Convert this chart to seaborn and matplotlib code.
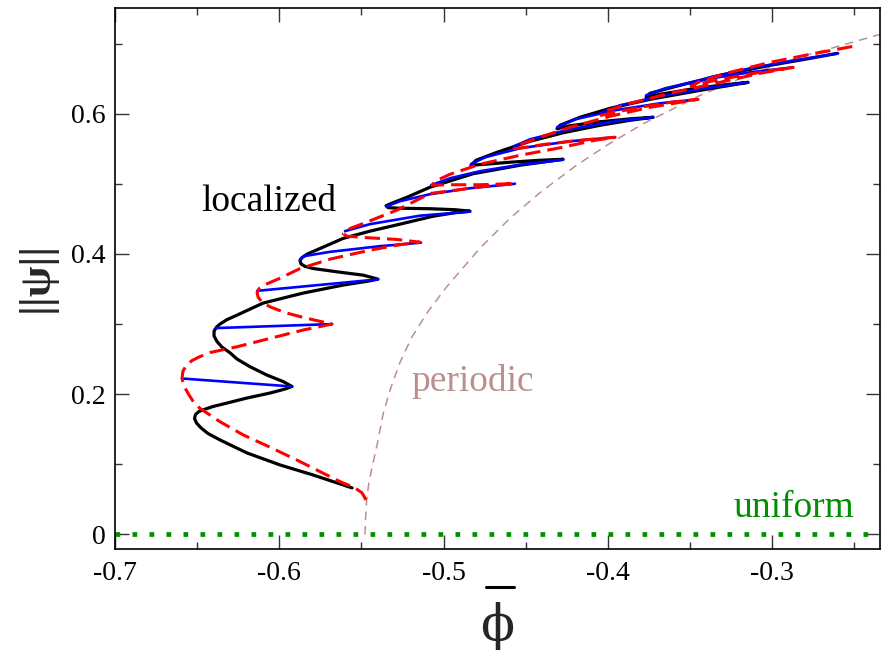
import matplotlib
matplotlib.use("Agg")
import matplotlib.pyplot as plt
from matplotlib.lines import Line2D
from matplotlib.ticker import MultipleLocator, FuncFormatter
import pandas as pd
import seaborn as sns

# ---------------------------------------------------------------- data
# localized branch 1 (solid black): mean density vs. norm of psi
black_phi = [-0.5557, -0.5630, -0.5795, -0.5995, -0.6196, -0.6361, -0.6434, -0.6476, -0.6504, -0.6516,
             -0.6510, -0.6489, -0.6452, -0.6403, -0.6342, -0.6196, -0.6056, -0.5965, -0.5922,
             -0.5977, -0.6075, -0.6178, -0.6257, -0.6300, -0.6349, -0.6379, -0.6397, -0.6397, -0.6382,
             -0.6361, -0.6318, -0.6257, -0.6099, -0.5855, -0.5612, -0.5448, -0.5399,
             -0.5490, -0.5648, -0.5795, -0.5843, -0.5868, -0.5874, -0.5862, -0.5831, -0.5752, -0.5612,
             -0.5448, -0.5265, -0.5064, -0.4930, -0.4839,
             -0.4930, -0.5082, -0.5265, -0.5338, -0.5350, -0.5314, -0.5222, -0.5082, -0.4820, -0.4534, -0.4272,
             -0.4413, -0.4595, -0.4747, -0.4833, -0.4802, -0.4674, -0.4473, -0.4272, -0.4047, -0.3864, -0.3724,
             -0.3864, -0.4047, -0.4230, -0.4309, -0.4291, -0.4169, -0.3986, -0.3743, -0.3438, -0.3146,
             -0.3317, -0.3499, -0.3682, -0.3767, -0.3743, -0.3560, -0.3317, -0.3012, -0.2769, -0.2604]
black_norm = [0.0664, 0.0721, 0.0849, 0.0991, 0.1162, 0.1348, 0.1440, 0.1519, 0.1590, 0.1654,
              0.1711, 0.1754, 0.1786, 0.1825, 0.1860, 0.1946, 0.2017, 0.2074, 0.2110,
              0.2181, 0.2273, 0.2392, 0.2501, 0.2591, 0.2672, 0.2751, 0.2829, 0.2900, 0.2957,
              0.3000, 0.3064, 0.3128, 0.3299, 0.3442, 0.3556, 0.3617, 0.3641,
              0.3698, 0.3745, 0.3793, 0.3823, 0.3858, 0.3905, 0.3947, 0.3997, 0.4078, 0.4221,
              0.4325, 0.4425, 0.4538, 0.4588, 0.4610,
              0.4631, 0.4645, 0.4652, 0.4660, 0.4688, 0.4724, 0.4809, 0.4952, 0.5144, 0.5265, 0.5350,
              0.5336, 0.5308, 0.5279, 0.5265, 0.5336, 0.5450, 0.5607, 0.5728, 0.5835, 0.5906, 0.5949,
              0.5927, 0.5885, 0.5828, 0.5785, 0.5835, 0.5949, 0.6077, 0.6205, 0.6333, 0.6447,
              0.6405, 0.6348, 0.6276, 0.6234, 0.6291, 0.6405, 0.6547, 0.6690, 0.6789, 0.6860]

# localized branch 2 (dashed red)
red_phi = [-0.5472, -0.5496, -0.5539, -0.5630, -0.5732, -0.5894, -0.6056, -0.6219, -0.6361, -0.6483,
           -0.6522, -0.6553, -0.6580, -0.6592, -0.6586, -0.6565, -0.6531, -0.6489, -0.6422, -0.6257,
           -0.6056, -0.5855, -0.5679,
           -0.5855, -0.5965, -0.6056, -0.6105, -0.6129, -0.6135, -0.6123, -0.6093, -0.6008, -0.5874,
           -0.5691, -0.5448, -0.5265, -0.5143,
           -0.5285, -0.5488, -0.5589, -0.5610, -0.5569, -0.5488, -0.5285, -0.5082, -0.4778, -0.4565,
           -0.4778, -0.4991, -0.5070, -0.5052, -0.4960, -0.4778, -0.4534, -0.4291, -0.4078, -0.3956,
           -0.4169, -0.4382, -0.4522, -0.4571, -0.4546, -0.4413, -0.4230, -0.3986, -0.3743, -0.3451,
           -0.3621, -0.3804, -0.3974, -0.4041, -0.4017, -0.3864, -0.3621, -0.3317, -0.3073, -0.2872,
           -0.3073, -0.3317, -0.3457, -0.3493, -0.3438, -0.3256, -0.3012, -0.2769, -0.2507]
red_norm = [0.0493, 0.0593, 0.0664, 0.0754, 0.0873, 0.1063, 0.1244, 0.1419, 0.1608, 0.1799,
            0.1889, 0.2003, 0.2117, 0.2224, 0.2330, 0.2416, 0.2480, 0.2530, 0.2594, 0.2677,
            0.2796, 0.2915, 0.3000,
            0.3095, 0.3164, 0.3246, 0.3313, 0.3385, 0.3449, 0.3506, 0.3556, 0.3641, 0.3791,
            0.3926, 0.4054, 0.4132, 0.4168,
            0.4207, 0.4235, 0.4254, 0.4289, 0.4363, 0.4435, 0.4624, 0.4862, 0.4956, 0.5004,
            0.4987, 0.4987, 0.4980, 0.5037, 0.5137, 0.5279, 0.5407, 0.5514, 0.5621, 0.5664,
            0.5621, 0.5564, 0.5514, 0.5500, 0.5550, 0.5664, 0.5806, 0.5963, 0.6091, 0.6205,
            0.6162, 0.6091, 0.6013, 0.5977, 0.6034, 0.6148, 0.6291, 0.6447, 0.6576, 0.6661,
            0.6590, 0.6490, 0.6419, 0.6390, 0.6462, 0.6590, 0.6732, 0.6846, 0.6960]

# asymmetric "rung" branches (blue) linking the two snakes
rung_phi = [
    [-0.6592, -0.5922],
    [-0.6385, -0.5679],
    [-0.6135, -0.5399],
    [-0.5874, -0.5849, -0.5691, -0.5387, -0.5137],
    [-0.5600, -0.5448, -0.5143, -0.4839],
    [-0.5344, -0.5265, -0.5082, -0.4839, -0.4565],
    [-0.5076, -0.4960, -0.4778, -0.4534, -0.4272],
    [-0.4833, -0.4747, -0.4534, -0.4230, -0.3956],
    [-0.4571, -0.4473, -0.4230, -0.3956, -0.3724],
    [-0.4309, -0.4199, -0.3956, -0.3682, -0.3451],
    [-0.4041, -0.3925, -0.3682, -0.3408, -0.3146],
    [-0.3767, -0.3651, -0.3408, -0.3134, -0.2872],
    [-0.3493, -0.3378, -0.3134, -0.2860, -0.2598],
]
rung_norm = [
    [0.2224, 0.2110],
    [0.2943, 0.3000],
    [0.3474, 0.3637],
    [0.3922, 0.3969, 0.4030, 0.4111, 0.4161],
    [0.4325, 0.4425, 0.4546, 0.4603],
    [0.4681, 0.4752, 0.4852, 0.4937, 0.5001],
    [0.4980, 0.5080, 0.5180, 0.5272, 0.5343],
    [0.5279, 0.5379, 0.5507, 0.5607, 0.5664],
    [0.5536, 0.5635, 0.5778, 0.5892, 0.5949],
    [0.5806, 0.5920, 0.6049, 0.6148, 0.6205],
    [0.6006, 0.6120, 0.6248, 0.6362, 0.6447],
    [0.6262, 0.6362, 0.6490, 0.6590, 0.6661],
    [0.6419, 0.6519, 0.6647, 0.6761, 0.6860],
]

# periodic (stripe) branch
periodic_phi = [-0.5478, -0.5475, -0.5468, -0.5454, -0.5429, -0.5405, -0.5387, -0.5367, -0.5326,
                -0.5265, -0.5192, -0.5094, -0.4981, -0.4778, -0.4595, -0.4413, -0.4199, -0.4006,
                -0.3785, -0.3438, -0.3134, -0.2830, -0.2629, -0.2343]
periodic_norm = [0.0, 0.0208, 0.0493, 0.0749, 0.1020, 0.1276, 0.1490, 0.1728, 0.2056,
                 0.2455, 0.2818, 0.3182, 0.3531, 0.4083, 0.4510, 0.4873, 0.5251, 0.5550,
                 0.5856, 0.6262, 0.6561, 0.6811, 0.6939, 0.7131]

# uniform state
uniform_phi = [-0.7, -0.2343]
uniform_norm = [0.0, 0.0]

x_ticks = [-0.7, -0.6, -0.5, -0.4, -0.3]
y_ticks = [0.0, 0.2, 0.4, 0.6]

# ---------------------------------------------------------------- style
sns.set_theme(style="ticks")
plt.rcParams["font.family"] = ["Liberation Serif", "DejaVu Serif"]
plt.rcParams["axes.unicode_minus"] = False

fig = plt.figure(figsize=(8.81, 6.5), dpi=100)
ax = fig.add_axes([115 / 881, 1 - 548.5 / 650, 765 / 881, 540 / 650])

green = "#008f00"
brown = "#bc8f8f"

sns.lineplot(x=uniform_phi, y=uniform_norm, ax=ax, color=green, lw=3.4,
             linestyle=(0, (1, 2.6)), sort=False, estimator=None, zorder=2)
sns.lineplot(x=periodic_phi, y=periodic_norm, ax=ax, color=brown, lw=1.1,
             linestyle=(0, (5.5, 4)), sort=False, estimator=None, zorder=2)
sns.lineplot(x=black_phi, y=black_norm, ax=ax, color="black", lw=2.3,
             sort=False, estimator=None, zorder=3)

rungs = pd.DataFrame({
    "phi": [v for seg in rung_phi for v in seg],
    "norm": [v for seg in rung_norm for v in seg],
    "rung": [i for i, seg in enumerate(rung_phi) for _ in seg],
})
sns.lineplot(data=rungs, x="phi", y="norm", units="rung", estimator=None, sort=False,
             ax=ax, color="#0000ff", lw=1.9, legend=False, zorder=4)

sns.lineplot(x=red_phi, y=red_norm, ax=ax, color="#ff0000", lw=2.2,
             linestyle=(0, (5, 2.3)), sort=False, estimator=None, zorder=5)

# ---------------------------------------------------------------- axes
ax.set_xlim(-0.7, -0.2343)
ax.set_ylim(-0.02, 0.75)
ax.set_xticks(x_ticks)
ax.set_yticks(y_ticks)
ax.xaxis.set_minor_locator(MultipleLocator(0.05))
ax.yaxis.set_minor_locator(MultipleLocator(0.1))
ax.xaxis.set_major_formatter(FuncFormatter(lambda v, _: f"{v:.1f}"))
ax.yaxis.set_major_formatter(FuncFormatter(lambda v, _: "0" if abs(v) < 1e-9 else f"{v:.1f}"))
ax.tick_params(which="both", direction="in", top=True, right=True, width=1.0,
               color="#333333", labelsize=20, labelcolor="black")
ax.tick_params(which="major", length=10)
ax.tick_params(which="minor", length=5)
ax.tick_params(axis="x", pad=9)
ax.tick_params(axis="y", pad=7)
for side in ax.spines.values():
    side.set_linewidth(1.2)
    side.set_color("black")
ax.set_xlabel("")
ax.set_ylabel("")

# branch labels
ax.text(-0.6476, 0.461, "localized", fontsize=27, color="black", ha="left", va="baseline")
ax.text(-0.5198, 0.2046, "periodic", fontsize=27, color=brown, ha="left", va="baseline")
ax.text(-0.3237, 0.0255, "uniform", fontsize=27, color=green, ha="left", va="baseline")

# axis titles
fig.text(0.042, 0.574, "||ψ||", rotation=90, fontsize=32, fontweight="bold",
         ha="center", va="center")
fig.text(497.5 / 881, 1 - 626 / 650, "\u03d5", fontsize=36, ha="center", va="center",
         family=["DejaVu Serif", "Liberation Serif"])
fig.add_artist(Line2D([486 / 881, 514 / 881], [1 - 587 / 650, 1 - 587 / 650],
                      transform=fig.transFigure, color="black", lw=2.2))

fig.savefig("out.png", dpi=100)
